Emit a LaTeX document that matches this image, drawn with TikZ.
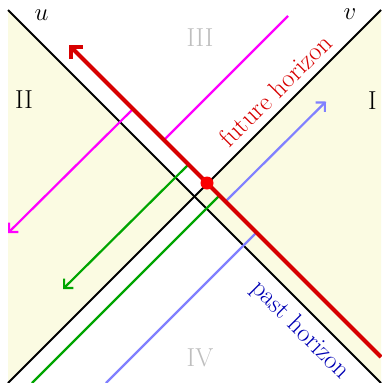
\documentclass[tikz,border=0pt]{standalone}
\usepackage{fontspec}
\usetikzlibrary{arrows.meta}
\definecolor{fillyel}{RGB}{251,251,226}
\definecolor{hred}{RGB}{215,0,0}
\definecolor{dotred}{RGB}{250,0,0}
\definecolor{rayA}{RGB}{255,0,255}
\definecolor{rayB}{RGB}{0,165,0}
\definecolor{rayC}{RGB}{128,128,255}
\definecolor{pastblue}{RGB}{0,0,180}
\definecolor{regiongray}{RGB}{190,190,190}
\begin{document}
\begin{tikzpicture}[x=1pt,y=-1pt,
  every node/.style={font=\fontsize{26}{30}\selectfont, inner sep=0pt},
  axisline/.style={black,line width=2pt},
  raypart/.style={line width=2.2pt},
  rayend/.style={line width=2.2pt,-{Straight Barb[length=6.5pt,width=13pt]}},
  horizon/.style={hred,line width=4pt,-{Straight Barb[length=8.5pt,width=17pt]}},
  region/.style={regiongray}]
\useasboundingbox (0,0) rectangle (381,383);
% corners and centre
\coordinate (uS) at (8,10);
\coordinate (uE) at (381,383);
\coordinate (vS) at (381,10);
\coordinate (vE) at (8,383);
\coordinate (O) at (194.5,196.5);
% shaded regions I and II
\fill[fillyel] (uS) -- (O) -- (vE) -- cycle;
\fill[fillyel] (vS) -- (O) -- (uE) -- cycle;
% axes
\draw[axisline] (uS) -- (uE);
\draw[axisline] (vS) -- (vE);
% magenta ray
\coordinate (m0) at (288,16);
\coordinate (m1) at (164,140);
\coordinate (m2) at (133,109);
\coordinate (m3) at (8,233);
\draw[raypart,rayA] (m0) -- (m1);
\draw[rayend,rayA] (m2) -- (m3);
% green ray
\coordinate (g0) at (32,383);
\coordinate (g1) at (219.5,195.5);
\coordinate (g2) at (188.5,164.5);
\coordinate (g3) at (63,289);
\draw[raypart,rayB] (g0) -- (g1);
\draw[rayend,rayB] (g2) -- (g3);
% blue ray
\coordinate (b0) at (106,383);
\coordinate (b1) at (256.5,232.5);
\coordinate (b2) at (225.5,201.5);
\coordinate (b3) at (326,101.5);
\draw[raypart,rayC] (b0) -- (b1);
\draw[rayend,rayC] (b2) -- (b3);
% future horizon (shock wave)
\coordinate (r0) at (381,357);
\coordinate (r1) at (69,45);
\draw[horizon] (r0) -- (r1);
\node[circle,fill=dotred,minimum size=13pt] (D) at (207,183) {};
% labels
\node (lu) at (41.5,15) {$u$};
\node (lv) at (350,14) {$v$};
\node (lII) at (24,100) {II};
\node (lI) at (372.5,101) {I};
\node[region] (lIII) at (200,38) {III};
\node[region] (lIV) at (200,358) {IV};
\node[hred,rotate=45] (fh) at (275,90.5) {future horizon};
\node[pastblue,rotate=-45] (ph) at (300,330) {past horizon};
\end{tikzpicture}
\end{document}
